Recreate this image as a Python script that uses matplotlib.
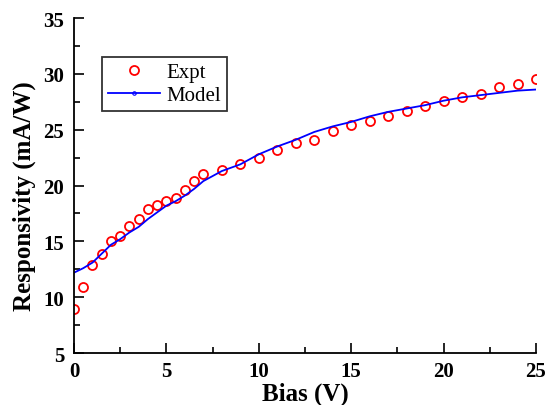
import matplotlib
matplotlib.use("Agg")
import matplotlib.pyplot as plt
from matplotlib.lines import Line2D

plt.rcParams['font.family'] = ['Liberation Serif', 'DejaVu Serif']

# experimental responsivity
expt_bias = [0, 0.5, 1, 1.5, 2, 2.5, 3, 3.5, 4, 4.5, 5, 5.5, 6, 6.5, 7, 8, 9, 10,
             11, 12, 13, 14, 15, 16, 17, 18, 19, 20, 21, 22, 23, 24, 25]
expt_resp = [8.9, 10.9, 12.9, 13.9, 15.0, 15.5, 16.4, 17.0, 17.9, 18.3, 18.6, 18.9,
             19.6, 20.4, 21.0, 21.4, 21.9, 22.5, 23.2, 23.8, 24.1, 24.9, 25.4, 25.8,
             26.2, 26.7, 27.1, 27.6, 27.9, 28.2, 28.8, 29.1, 29.5]

# model
model_bias = [0, 0.5, 1, 1.5, 2, 2.5, 3, 3.5, 4, 4.5, 5, 5.5, 6, 6.5, 7, 8, 9, 10,
              11, 12, 13, 14, 15, 16, 17, 18, 19, 20, 21, 22, 23, 24, 25]
model_resp = [12.2, 12.6, 13.1, 13.9, 14.7, 15.2, 15.8, 16.3, 17.0, 17.6, 18.2, 18.6,
              19.1, 19.7, 20.4, 21.3, 21.9, 22.8, 23.5, 24.1, 24.8, 25.3, 25.7, 26.2,
              26.6, 26.9, 27.2, 27.6, 27.9, 28.1, 28.3, 28.5, 28.6]

fig = plt.figure(figsize=(5.49, 4.06), dpi=100)
ax = fig.add_axes([0.1348, 0.128, 0.8415, 0.825])

expt_h, = ax.plot(expt_bias, expt_resp, linestyle='none', marker='o', markersize=6.5,
                  markerfacecolor='none', markeredgecolor='red', markeredgewidth=1.3)
ax.plot(model_bias, model_resp, color='blue', linewidth=1.3)
# legend entry for model shows a tiny symbol on the line
model_h = Line2D([], [], color='blue', linewidth=1.3, marker='o', markersize=2.5,
                 markerfacecolor='none', markeredgewidth=0.8)

ax.set_xlim(0, 25)
ax.set_ylim(5, 35)
ax.set_xticks([0, 5, 10, 15, 20, 25])
ax.set_xticks([2.5, 7.5, 12.5, 17.5, 22.5], minor=True)
ax.set_yticks([5, 10, 15, 20, 25, 30, 35])
ax.set_yticks([7.5, 12.5, 17.5, 22.5, 27.5, 32.5], minor=True)
ax.spines['top'].set_visible(False)
ax.spines['right'].set_visible(False)
for s in ['left', 'bottom']:
    ax.spines[s].set_linewidth(1.3)
ax.tick_params(which='major', direction='in', length=7, width=1.2, labelsize=15)
ax.tick_params(which='minor', direction='in', length=4, width=1.2)
ax.tick_params(axis='x', which='major', pad=6)
ax.tick_params(axis='y', which='major', pad=7)
for lab in ax.get_xticklabels() + ax.get_yticklabels():
    lab.set_fontweight('bold')

ax.set_xlabel('Bias (V)', fontsize=18, fontweight='bold', labelpad=0)
ax.set_ylabel('Responsivity (mA/W)', fontsize=18, fontweight='bold')
ax.yaxis.set_label_coords(-0.082, 0.47)

leg = ax.legend([expt_h, model_h], ['Expt', 'Model'], loc='upper left',
                bbox_to_anchor=(0.06, 0.885), fontsize=15,
                frameon=True, fancybox=False, edgecolor='black', handlelength=2.5,
                borderpad=0.3, labelspacing=0.15, handletextpad=0.3, borderaxespad=0)
leg.get_frame().set_linewidth(1.3)

fig.savefig('out.png', dpi=100)
